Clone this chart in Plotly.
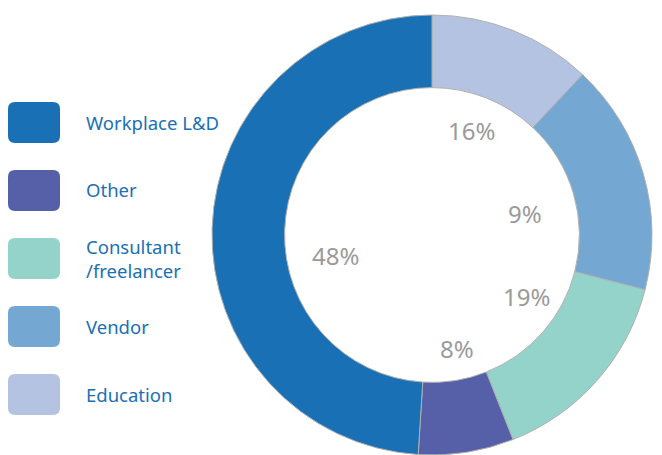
import plotly.graph_objects as go

W, H = 662, 455
OFF = 8                       # page body margin, compensated
FW, FH = W - OFF, H - OFF     # figure size

# slices, clockwise from 12 o'clock
slice_names = ["Education", "Vendor", "Consultant /freelancer", "Other", "Workplace L&D"]
slice_share = [12, 17, 15, 7, 49]          # share of the ring as drawn
slice_colors = ["#b5c3e2", "#75a7d3", "#94d3c9", "#5560a8", "#1a70b5"]

# printed percentages (as shown in the hole)
pct_labels = ["16%", "9%", "19%", "8%", "48%"]
pct_pos = [(471, 131), (525, 213), (526, 296), (457, 348), (335, 255)]

# legend, top to bottom
legend_names = ["Workplace L&D", "Other", "Consultant<br>/freelancer", "Vendor", "Education"]
legend_colors = ["#1a70b5", "#5560a8", "#94d3c9", "#75a7d3", "#b5c3e2"]


def px(x, y):
    # screen pixel -> paper fraction
    return (x - OFF) / FW, 1 - (y - OFF) / FH


def rounded_rect(x0, y0, x1, y1, r):
    p = [px(x0 + r, y0), px(x1 - r, y0), px(x1, y0 + r), px(x1, y1 - r),
         px(x1 - r, y1), px(x0 + r, y1), px(x0, y1 - r), px(x0, y0 + r)]
    c = [px(x1, y0), px(x1, y1), px(x0, y1), px(x0, y0)]
    return (f"M{p[0][0]},{p[0][1]} L{p[1][0]},{p[1][1]} Q{c[0][0]},{c[0][1]} {p[2][0]},{p[2][1]} "
            f"L{p[3][0]},{p[3][1]} Q{c[1][0]},{c[1][1]} {p[4][0]},{p[4][1]} "
            f"L{p[5][0]},{p[5][1]} Q{c[2][0]},{c[2][1]} {p[6][0]},{p[6][1]} "
            f"L{p[7][0]},{p[7][1]} Q{c[3][0]},{c[3][1]} {p[0][0]},{p[0][1]} Z")


dx0, dy1 = px(212, 15)
dx1, _ = px(652, 15)
fig = go.Figure(go.Pie(
    labels=slice_names, values=slice_share,
    marker=dict(colors=slice_colors, line=dict(color="#b0b0b0", width=1)),
    hole=0.67, sort=False, direction="clockwise", rotation=0,
    textinfo="none", showlegend=False,
    domain=dict(x=[dx0, dx1], y=[0, dy1]),
))

for i, (name, col) in enumerate(zip(legend_names, legend_colors)):
    top = 102 + i * 68
    fig.add_shape(type="path", xref="paper", yref="paper",
                  path=rounded_rect(8, top, 60, top + 41, 7),
                  fillcolor=col, line=dict(width=0))
    tx, ty = px(84, top + 20)
    fig.add_annotation(x=tx, y=ty, xref="paper", yref="paper",
                       text=name, showarrow=False, xanchor="left", yanchor="middle",
                       align="left",
                       font=dict(family="Noto Sans", size=18.5, color="#1a70b5"))

for t, (x, y) in zip(pct_labels, pct_pos):
    ax, ay = px(x, y)
    fig.add_annotation(x=ax, y=ay, xref="paper", yref="paper", text=t,
                       showarrow=False, xanchor="center", yanchor="middle",
                       font=dict(family="Noto Sans", size=24, color="#9a9a9a"))

fig.update_layout(width=FW, height=FH, margin=dict(l=0, r=0, t=0, b=0),
                  paper_bgcolor="white", plot_bgcolor="white")
fig.write_html("out.html")
